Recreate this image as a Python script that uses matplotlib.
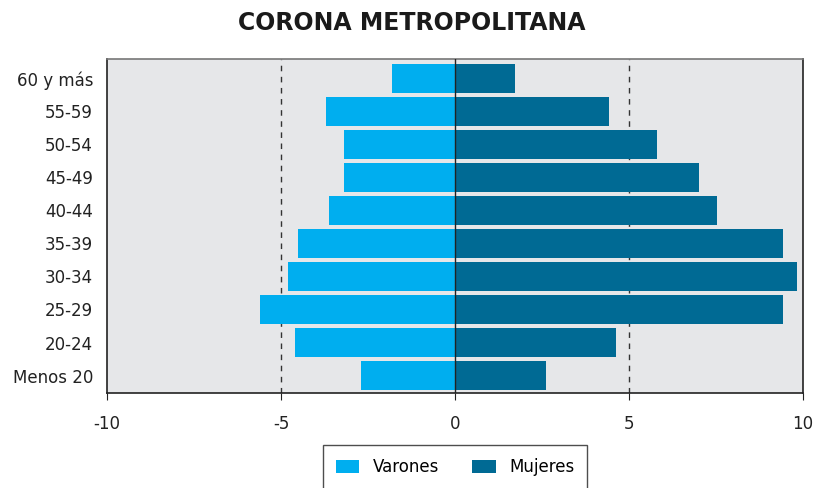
import matplotlib
matplotlib.use("Agg")
import matplotlib.pyplot as plt
import numpy as np

categories = ["Menos 20", "20-24", "25-29", "30-34", "35-39", "40-44",
              "45-49", "50-54", "55-59", "60 y más"]
varones = [-2.70, -4.59, -5.60, -4.79, -4.51, -3.62, -3.19, -3.19, -3.70, -1.81]
mujeres = [2.61, 4.62, 9.42, 9.82, 9.42, 7.52, 7.01, 5.80, 4.42, 1.72]
xticks = [-10, -5, 0, 5, 10]

plt.rcParams['font.family'] = ['DejaVu Sans']

fig = plt.figure(figsize=(8.16, 4.88), dpi=100)
ax = fig.add_axes([107/816, 1-393/488, (803-107)/816, (393-59)/488])
ax.set_facecolor('#E6E7E9')

y = np.arange(len(categories))
ax.barh(y, varones, height=0.88, color='#00AEEF', label='Varones', zorder=3)
ax.barh(y, mujeres, height=0.88, color='#006A94', label='Mujeres', zorder=3)

for xv in [-5, 5]:
    ax.axvline(xv, color='#333333', linestyle=(0, (4, 4)), linewidth=1.0, zorder=1)
ax.axvline(0, color='#222222', linewidth=1.0, zorder=4)

ax.set_xlim(-10, 10)
ax.set_ylim(-0.53, 9.59)
ax.set_xticks(xticks)
ax.set_xticklabels([str(t) for t in xticks], fontsize=12, color='#222222')
ax.set_yticks(y)
ax.set_yticklabels(categories, fontsize=12, color='#222222')
ax.tick_params(axis='y', length=0, pad=10)
ax.tick_params(axis='x', length=5, direction='out', pad=11, color='#222222')

for s in ['left', 'bottom', 'right']:
    ax.spines[s].set_color('#222222')
    ax.spines[s].set_linewidth(1.2)
ax.spines['top'].set_color('#777777')
ax.spines['top'].set_linewidth(1.2)

fig.text(0.505, 1-23/488, "CORONA METROPOLITANA", ha='center', va='center',
         fontsize=17, fontweight='heavy', color='#1a1a1a')

leg = fig.legend(loc='upper center', bbox_to_anchor=(455/816, 1-445/488),
                 ncol=2, frameon=True, fontsize=12, borderpad=0.8, borderaxespad=0,
                 handlelength=1.4, handleheight=0.8, columnspacing=2.0,
                 fancybox=False, edgecolor='#222222')
leg.get_frame().set_linewidth(1.0)

fig.savefig("out.png", dpi=100)
